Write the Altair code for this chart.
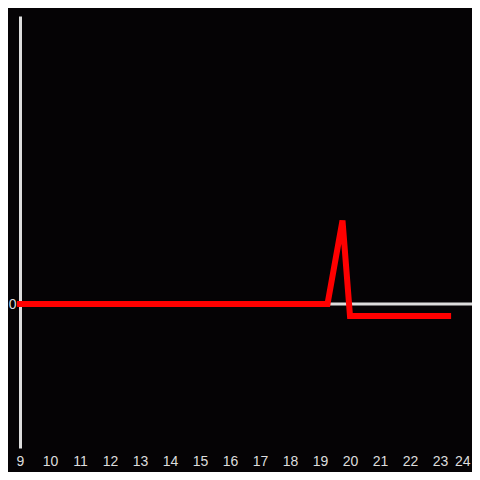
import altair as alt
import pandas as pd

hours = [9, 19.25, 19.75, 20, 23.27]
values = [0, 0, 0.29, -0.042, -0.042]
x_ticks = list(range(9, 25))

df = pd.DataFrame({"x": hours, "y": values})
zero = pd.DataFrame({"y": [0]})

xs = alt.Scale(domain=[9, 24], nice=False, zero=False)
ys = alt.Scale(domain=[-0.5, 1], nice=False, zero=False)

rule = alt.Chart(zero).mark_rule(color="#dddddd", strokeWidth=3, clip=False).encode(
    y=alt.Y("y:Q", scale=ys),
    x=alt.value(0),
    x2=alt.value(460),
)

line = alt.Chart(df).mark_line(color="#ff0000", strokeWidth=6, strokeCap="square", clip=False).encode(
    x=alt.X("x:Q", scale=xs,
            axis=alt.Axis(values=x_ticks, title=None, domain=False, ticks=False, grid=False,
                          labelColor="#dddddd", labelFontSize=14, labelPadding=6,
                          labelFont="Liberation Sans", format="d", labelFlush=False,
                          labelAlign=alt.expr("datum.value == 24 ? 'right' : 'center'"))),
    y=alt.Y("y:Q", scale=ys,
            axis=alt.Axis(values=[0], title=None, domain=True, domainColor="#dddddd",
                          domainWidth=3, ticks=False, grid=False,
                          labelColor="#dddddd", labelFontSize=14, labelPadding=4,
                          labelFont="Liberation Sans")),
)

chart = alt.layer(rule, line).properties(
    width=450, height=432,
    background="#050305",
    padding={"left": 12, "top": 8, "right": 2, "bottom": 24},
    autosize=alt.AutoSizeParams(type="none"),
).configure_view(stroke=None)

chart.save("out.html", embed_options={"renderer": "svg", "actions": False})
